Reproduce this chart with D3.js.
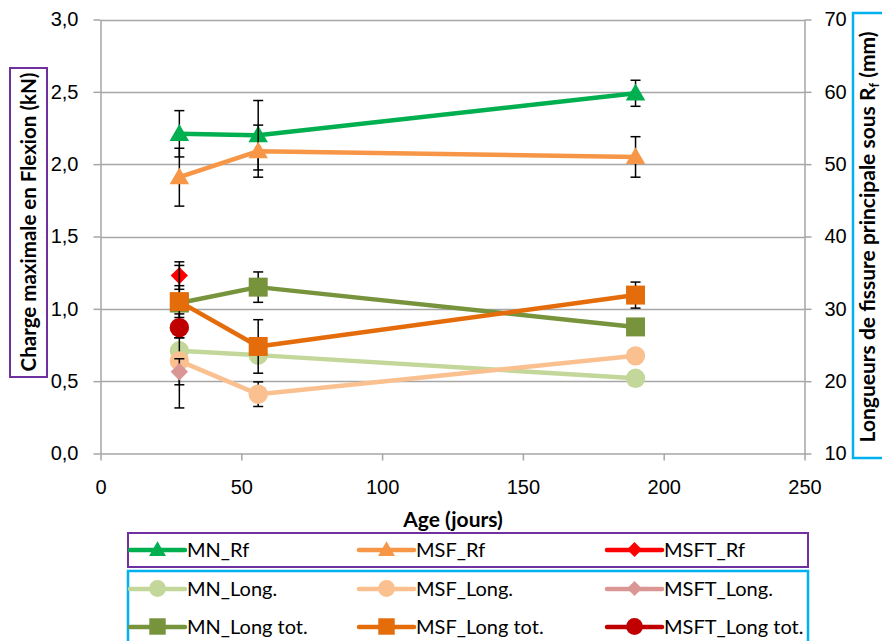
<!DOCTYPE html>
<html>
<head>
<meta charset="utf-8">
<script src="https://cdn.jsdelivr.net/npm/d3@7"></script>
<style>
  html, body { margin: 0; padding: 0; background: #fff; }
  svg { display: block; font-family: Lato, "Open Sans", sans-serif; }
</style>
</head>
<body>
<svg id="chart" width="882" height="641"></svg>
<script>
// ---------- DATA ----------
const ages = [28, 56, 190];
const agesSingle = [28];

// Left axis (kN)
const MN_Rf = [2.21, 2.20, 2.49];
const MN_Rf_err = [0.16, 0.24, 0.09];
const MSF_Rf = [1.91, 2.09, 2.05];
const MSF_Rf_err = [0.20, 0.18, 0.14];
const MSFT_Rf = [1.23];
const MSFT_Rf_err = [0.095];

// Right axis (mm)
const MN_Long = [24.2, 23.6, 20.4];
const MN_Long_err = [0.8, 0.7, 0.5];
const MSF_Long = [22.8, 18.2, 23.5];
const MSF_Long_err = [6.5, 1.7, 0.5];
const MSFT_Long = [21.3];
const MSFT_Long_err = [1.8];
const MN_Long_tot = [30.8, 33.0, 27.5];
const MN_Long_tot_err = [2.4, 2.1, 0.5];
const MSF_Long_tot = [31.0, 24.8, 31.9];
const MSF_Long_tot_err = [5.0, 3.7, 1.8];
const MSFT_Long_tot = [27.4];
const MSFT_Long_tot_err = [1.4];

const xTicks = [0, 50, 100, 150, 200, 250];
const yLeftTicks = [0, 0.5, 1.0, 1.5, 2.0, 2.5, 3.0];
const yRightTicks = [10, 20, 30, 40, 50, 60, 70];

const seriesNames = ["MN_Rf", "MSF_Rf", "MSFT_Rf", "MN_Long.", "MSF_Long.", "MSFT_Long.", "MN_Long tot.", "MSF_Long tot.", "MSFT_Long tot."];

// ---------- SETUP ----------
const series = [
  {name: seriesNames[0], x: ages, y: MN_Rf, e: MN_Rf_err, axis: "L", color: "#00B050", sym: "tri"},
  {name: seriesNames[1], x: ages, y: MSF_Rf, e: MSF_Rf_err, axis: "L", color: "#F79646", sym: "tri"},
  {name: seriesNames[2], x: agesSingle, y: MSFT_Rf, e: MSFT_Rf_err, axis: "L", color: "#FF0000", sym: "dia"},
  {name: seriesNames[3], x: ages, y: MN_Long, e: MN_Long_err, axis: "R", color: "#C4D79B", sym: "cir"},
  {name: seriesNames[4], x: ages, y: MSF_Long, e: MSF_Long_err, axis: "R", color: "#FAC090", sym: "cir"},
  {name: seriesNames[5], x: agesSingle, y: MSFT_Long, e: MSFT_Long_err, axis: "R", color: "#DA9694", sym: "dia"},
  {name: seriesNames[6], x: ages, y: MN_Long_tot, e: MN_Long_tot_err, axis: "R", color: "#77933C", sym: "sq"},
  {name: seriesNames[7], x: ages, y: MSF_Long_tot, e: MSF_Long_tot_err, axis: "R", color: "#E46C0A", sym: "sq"},
  {name: seriesNames[8], x: agesSingle, y: MSFT_Long_tot, e: MSFT_Long_tot_err, axis: "R", color: "#C00000", sym: "cir"}
];

const svg = d3.select("#chart");
const x = d3.scaleLinear().domain([0, 250]).range([100.5, 804.5]);
const yL = d3.scaleLinear().domain([0, 3]).range([453.5, 19.5]);
const yR = d3.scaleLinear().domain([10, 70]).range([453.5, 19.5]);
const locale = d3.formatLocale({decimal: ",", thousands: " ", grouping: [3], currency: ["", "€"]});
const fmt1 = locale.format(".1f");
const gridColor = "#A6A6A6";
const textColor = "#000";

// gridlines
svg.append("g").selectAll("line").data(yLeftTicks.filter(d => d > 0)).join("line")
  .attr("x1", x(0)).attr("x2", x(250))
  .attr("y1", d => Math.round(yL(d)) + 0.5).attr("y2", d => Math.round(yL(d)) + 0.5)
  .attr("stroke", gridColor).attr("stroke-width", 1.5);

// axes
function styleAxis(g) {
  g.select(".domain").attr("stroke", gridColor).attr("stroke-width", 1.5);
  g.selectAll(".tick line").attr("stroke", gridColor).attr("stroke-width", 1.5);
  g.selectAll(".tick text").attr("fill", textColor).style("font-size", "20px");
}
svg.append("g").attr("transform", `translate(${x(0)},0)`)
  .call(d3.axisLeft(yL).tickValues(yLeftTicks).tickFormat(fmt1).tickSize(7).tickPadding(15).tickSizeOuter(0))
  .call(styleAxis);
svg.append("g").attr("transform", `translate(${x(250)},0)`)
  .call(d3.axisRight(yR).tickValues(yRightTicks).tickFormat(d3.format("d")).tickSize(7).tickPadding(13).tickSizeOuter(0))
  .call(styleAxis);
svg.append("g").attr("transform", `translate(0,${yL(0)})`)
  .call(d3.axisBottom(x).tickValues(xTicks).tickFormat(d3.format("d")).tickSize(7).tickPadding(19).tickSizeOuter(0))
  .call(styleAxis);

// symbols
function symPath(sym, scale) {
  const s = scale || 1;
  if (sym === "tri") return d3.symbol(d3.symbolTriangle, 165 * s)();
  if (sym === "sq") return d3.symbol(d3.symbolSquare, 360 * s)();
  if (sym === "cir") return d3.symbol(d3.symbolCircle, 295 * s)();
  if (sym === "dia") return d3.symbol(d3.symbolSquare, 150 * s)();
}
function symTransform(sym, cx, cy) {
  if (sym === "dia") return `translate(${cx},${cy}) rotate(45)`;
  if (sym === "tri") return `translate(${cx},${cy + 1.5})`;
  return `translate(${cx},${cy})`;
}

const line = (s) => d3.line().x((d, i) => x(s.x[i])).y(d => (s.axis === "L" ? yL : yR)(d));

series.forEach(s => {
  const ys = s.axis === "L" ? yL : yR;
  const g = svg.append("g");
  if (s.y.length > 1) {
    g.append("path").attr("d", line(s)(s.y)).attr("fill", "none")
      .attr("stroke", s.color).attr("stroke-width", 4.5).attr("stroke-linejoin", "round");
  }
  // error bars (drawn below this series' markers)
  const eb = g.selectAll("g.eb").data(s.y).join("g").attr("class", "eb");
  eb.append("line")
    .attr("x1", (d, i) => x(s.x[i])).attr("x2", (d, i) => x(s.x[i]))
    .attr("y1", (d, i) => ys(d + s.e[i])).attr("y2", (d, i) => ys(d - s.e[i]))
    .attr("stroke", "#000").attr("stroke-width", 1.5);
  [1, -1].forEach(sg => {
    eb.append("line")
      .attr("x1", (d, i) => x(s.x[i]) - 5).attr("x2", (d, i) => x(s.x[i]) + 5)
      .attr("y1", (d, i) => ys(d + sg * s.e[i])).attr("y2", (d, i) => ys(d + sg * s.e[i]))
      .attr("stroke", "#000").attr("stroke-width", 1.5);
  });
  g.selectAll("path.m").data(s.y).join("path").attr("class", "m")
    .attr("d", symPath(s.sym))
    .attr("transform", (d, i) => symTransform(s.sym, x(s.x[i]), ys(d)))
    .attr("fill", s.color);
});

// axis titles
svg.append("text").attr("x", 453).attr("y", 527).attr("text-anchor", "middle")
  .style("font-size", "21px").style("font-weight", "bold").text("Age (jours)");

svg.append("rect").attr("x", 10).attr("y", 68).attr("width", 37).attr("height", 309)
  .attr("fill", "none").attr("stroke", "#7030A0").attr("stroke-width", 2);
svg.append("text").attr("transform", "translate(36,222) rotate(-90)").attr("text-anchor", "middle")
  .style("font-size", "20.5px").style("font-weight", "bold").text("Charge maximale en Flexion (kN)");

svg.append("rect").attr("x", 853).attr("y", 13).attr("width", 40).attr("height", 445)
  .attr("fill", "none").attr("stroke", "#00B0F0").attr("stroke-width", 2.5);
const rt = svg.append("text").attr("transform", "translate(875,237) rotate(-90)").attr("text-anchor", "middle")
  .style("font-size", "21px").style("font-weight", "bold");
rt.append("tspan").text("Longueurs de fissure principale sous R");
rt.append("tspan").attr("dy", 4).style("font-size", "13px").text("f");
rt.append("tspan").attr("dy", -4).text(" (mm)");

// legend
svg.append("rect").attr("x", 128).attr("y", 533).attr("width", 680).attr("height", 34)
  .attr("fill", "none").attr("stroke", "#7030A0").attr("stroke-width", 2);
svg.append("rect").attr("x", 128).attr("y", 571).attr("width", 680).attr("height", 80)
  .attr("fill", "none").attr("stroke", "#00B0F0").attr("stroke-width", 2.5);

const colX = [130, 359, 607];
const rowY = [550, 589, 627];
series.forEach((s, k) => {
  const cx = colX[k % 3], cy = rowY[Math.floor(k / 3)];
  const g = svg.append("g");
  g.append("line").attr("x1", cx).attr("x2", cx + 55).attr("y1", cy).attr("y2", cy)
    .attr("stroke", s.color).attr("stroke-width", 4.5).attr("stroke-linecap", "round");
  g.append("path").attr("d", symPath(s.sym, 0.75)).attr("transform", symTransform(s.sym, cx + 27.5, cy - 0.5))
    .attr("fill", s.color);
  g.append("text").attr("x", cx + 57).attr("y", cy + 7).style("font-size", "20px").text(s.name);
});
</script>
</body>
</html>
